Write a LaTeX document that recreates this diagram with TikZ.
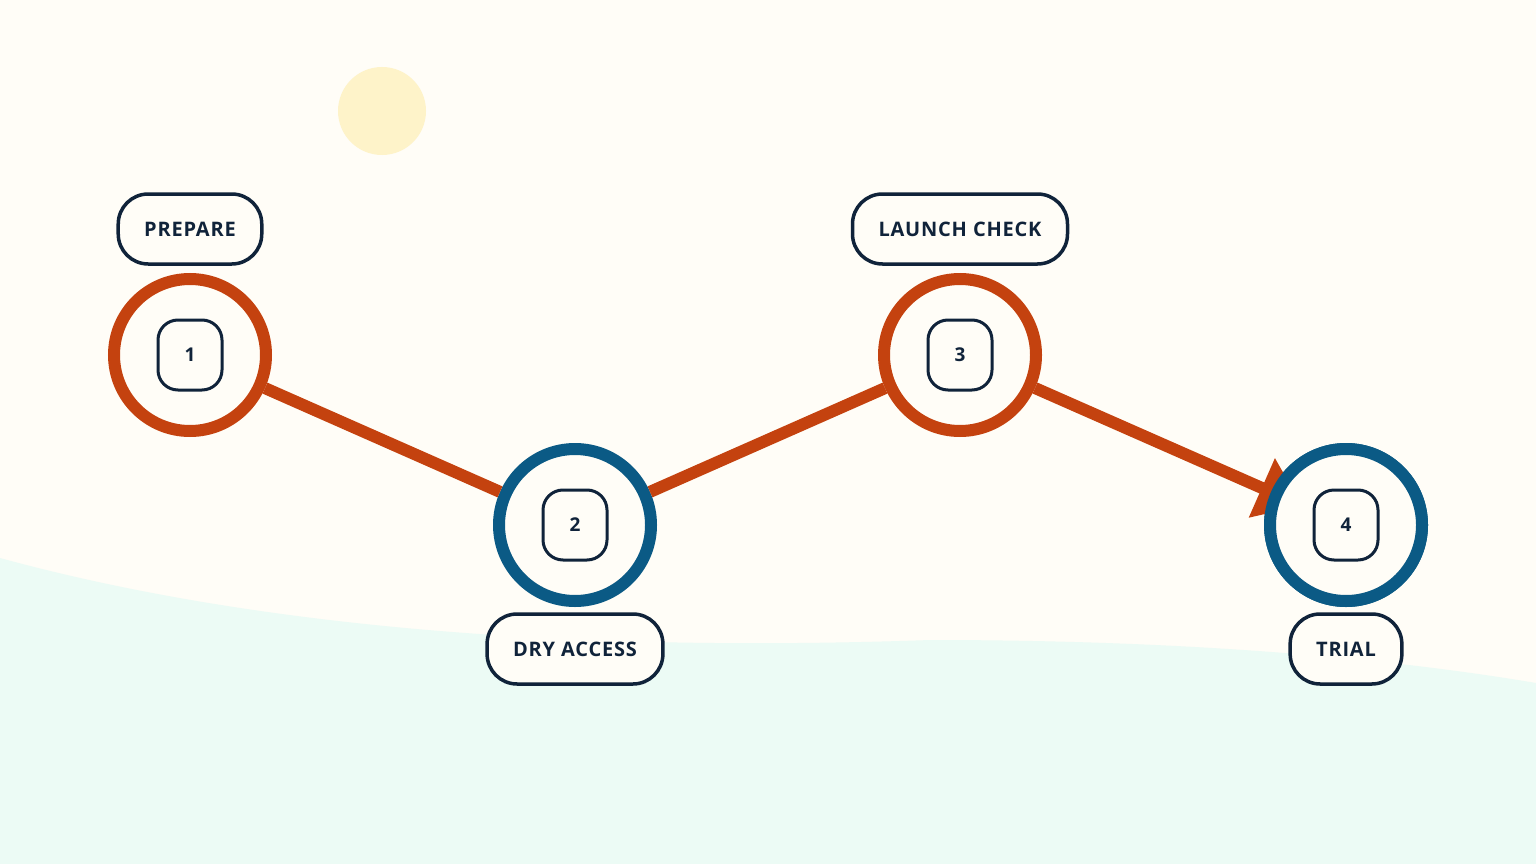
\documentclass[tikz,border=0pt]{standalone}
\usepackage{fontspec}
\setmainfont{Open Sans}[LetterSpace=4]
\usetikzlibrary{arrows.meta}
\definecolor{rust}{HTML}{C4420F}
\definecolor{sea}{HTML}{0B5A85}
\definecolor{ink}{HTML}{10233A}
\definecolor{paper}{HTML}{FFFDF7}
\definecolor{mint}{HTML}{ECFBF5}
\definecolor{sun}{HTML}{FEF3C9}
\tikzset{
  stop/.style={draw, circle, line width=12pt, fill=paper, minimum size=152pt, inner sep=0pt},
  num/.style={draw=ink, line width=3pt, rounded corners=20pt, minimum width=64pt, minimum height=70pt, font=\fontsize{19}{19}\selectfont\bfseries\color{ink}},
  tag/.style={draw=ink, fill=paper, line width=3.5pt, rounded corners=30pt, minimum height=70pt, inner xsep=26pt, font=\fontsize{20}{20}\selectfont\bfseries\color{ink}},
  leg/.style={rust, line width=12pt}
}
\begin{document}
\begin{tikzpicture}[x=1pt,y=-1pt]
\fill[paper] (0,0) rectangle (1536,864);
\useasboundingbox (0,0) rectangle (1536,864);
\fill[mint] (0,558) .. controls (300,640) and (650,650) .. (930,640) .. controls (1200,640) and (1400,660) .. (1536,683) -- (1536,864) -- (0,864) -- cycle;
\fill[sun] (382,111) circle (44);

\node[stop, draw=rust] (s1) at (190,355) {};
\node[stop, draw=sea] (s2) at (575,525) {};
\node[stop, draw=rust] (s3) at (960,355) {};
\node[stop, draw=sea] (s4) at (1346,525) {};

\draw[leg] (s1) -- (s2);
\draw[leg] (s2) -- (s3);
\draw[leg, -{Triangle[length=44pt,width=62pt]}, shorten >=-34pt] (s3) -- (s4);

\node[stop, draw=sea] at (s4) {};
\node[num] (n1) at (s1) {1};
\node[num] (n2) at (s2) {2};
\node[num] (n3) at (s3) {3};
\node[num] (n4) at (s4) {4};

\node[tag] (t1) at (190,229) {PREPARE};
\node[tag] (t2) at (575,649) {DRY ACCESS};
\node[tag] (t3) at (960,229) {LAUNCH CHECK};
\node[tag] (t4) at (1346,649) {TRIAL};
\end{tikzpicture}
\end{document}
